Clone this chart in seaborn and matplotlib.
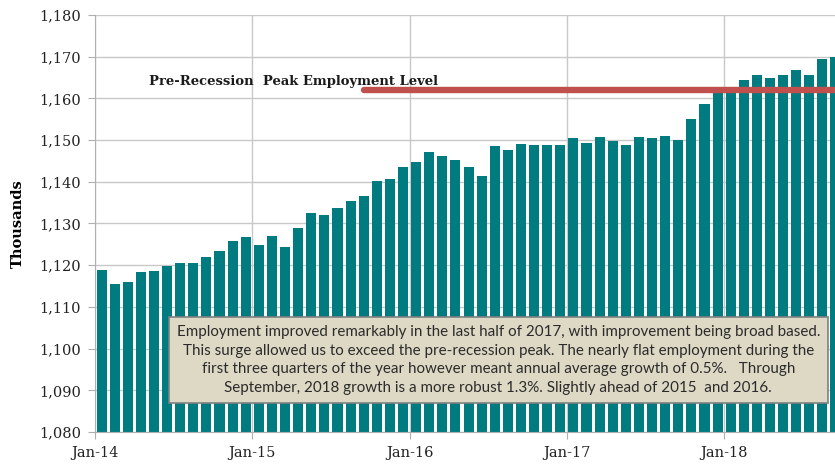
import numpy as np
import pandas as pd
import matplotlib.pyplot as plt
from matplotlib.patches import Rectangle
import seaborn as sns

# monthly employment Jan-14 .. Sep-18, in thousands
months = ["Jan-14", "Feb-14", "Mar-14", "Apr-14", "May-14", "Jun-14", "Jul-14", "Aug-14", "Sep-14", "Oct-14", "Nov-14", "Dec-14",
          "Jan-15", "Feb-15", "Mar-15", "Apr-15", "May-15", "Jun-15", "Jul-15", "Aug-15", "Sep-15", "Oct-15", "Nov-15", "Dec-15",
          "Jan-16", "Feb-16", "Mar-16", "Apr-16", "May-16", "Jun-16", "Jul-16", "Aug-16", "Sep-16", "Oct-16", "Nov-16", "Dec-16",
          "Jan-17", "Feb-17", "Mar-17", "Apr-17", "May-17", "Jun-17", "Jul-17", "Aug-17", "Sep-17", "Oct-17", "Nov-17", "Dec-17",
          "Jan-18", "Feb-18", "Mar-18", "Apr-18", "May-18", "Jun-18", "Jul-18", "Aug-18", "Sep-18"]
employment = [1118.9, 1115.4, 1116.0, 1118.3, 1118.7, 1119.8, 1120.5, 1120.5, 1122.0, 1123.5, 1125.9, 1126.8,
              1124.8, 1127.1, 1124.4, 1128.8, 1132.4, 1132.1, 1133.6, 1135.5, 1136.5, 1140.2, 1140.7, 1143.6,
              1144.7, 1147.2, 1146.2, 1145.3, 1143.5, 1141.5, 1148.5, 1147.6, 1149.0, 1148.7, 1148.7, 1148.8,
              1150.4, 1149.4, 1150.8, 1149.7, 1148.7, 1150.8, 1150.5, 1151.0, 1150.0, 1155.1, 1158.7, 1161.4,
              1161.9, 1164.3, 1165.6, 1165.0, 1165.5, 1166.9, 1165.5, 1169.4, 1170.0]
year_labels = ["Jan-14", "Jan-15", "Jan-16", "Jan-17", "Jan-18"]
y_ticks = [1080, 1090, 1100, 1110, 1120, 1130, 1140, 1150, 1160, 1170, 1180]

# the pre-recession peak line starts in Sep-15
peak_level = 1161.9
peak_start = "Sep-15"

note = ("Employment improved remarkably in the last half of 2017, with improvement being broad based.\n"
        "This surge allowed us to exceed the pre-recession peak. The nearly flat employment during the\n"
        "first three quarters of the year however meant annual average growth of 0.5%.   Through\n"
        "September, 2018 growth is a more robust 1.3%. Slightly ahead of 2015  and 2016.")

df = pd.DataFrame({"month": months, "employment": employment})

fig = plt.figure(figsize=(8.35, 4.67), dpi=100)
ax = fig.add_axes([0.1138, 0.0749, 0.8862, 0.8931])

sns.barplot(data=df, x="month", y="employment", color="#007C80", saturation=1,
            width=0.77, ax=ax, zorder=2)

# peak employment line
start = months.index(peak_start)
xs = np.arange(start, len(months) + 1)
ax.plot(xs, [peak_level] * len(xs), color="#C0504D", lw=4.6, solid_capstyle="round", zorder=3)
ax.text(3.6, 1164.0, "Pre-Recession  Peak Employment Level", fontsize=9.45, fontweight="bold",
        family="DejaVu Serif", color="#1a1a1a", va="center", ha="left", zorder=4)

ax.set_ylim(1080, 1180)
ax.set_xlim(-0.5, 55.96)
ax.set_yticks(y_ticks)
ax.set_yticklabels([f"{v:,}" for v in y_ticks])
ax.set_xticks([months.index(m) - 0.5 for m in year_labels])
ax.set_xticklabels(year_labels)

ax.grid(True, color="#c8c8c8", lw=1.0, zorder=0)
ax.set_axisbelow(True)
for s in ["top", "right"]:
    ax.spines[s].set_visible(False)
for s in ["left", "bottom"]:
    ax.spines[s].set_color("#b0b0b0")
ax.tick_params(direction="out", length=5, color="#b0b0b0", labelsize=10.5, labelcolor="#222222", pad=5)
for lab in ax.get_xticklabels() + ax.get_yticklabels():
    lab.set_family("DejaVu Serif")

ax.set_xlabel("")
ax.set_ylabel("Thousands", family="DejaVu Serif", fontweight="bold", fontsize=10.5, labelpad=10)

# commentary box
ax.add_patch(Rectangle((0.1, 0.0695), 0.8905, 0.206, transform=ax.transAxes,
                       facecolor="#DDD9C4", edgecolor="#7f7f7f", lw=1.2, zorder=5))
ax.text(0.545, 0.1727, note, transform=ax.transAxes, ha="center", va="center",
        family="Lato", fontsize=10.9, color="#2b2b2b", linespacing=1.4, zorder=6)

fig.savefig("out.png", dpi=100)
